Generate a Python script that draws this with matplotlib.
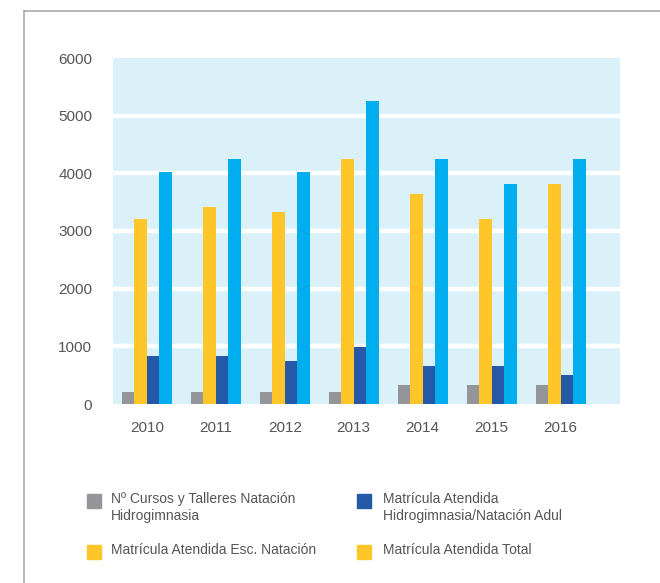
import matplotlib
matplotlib.use("Agg")
import matplotlib.pyplot as plt
from matplotlib.patches import Rectangle
from matplotlib.lines import Line2D
import numpy as np

plt.rcParams['font.family'] = ['Liberation Sans', 'DejaVu Sans']

# datos
years = ['2010', '2011', '2012', '2013', '2014', '2015', '2016']
cursos = [210, 210, 210, 210, 330, 330, 330]
esc_natacion = [3210, 3420, 3330, 4250, 3640, 3210, 3820]
hidro_adul = [830, 830, 745, 990, 660, 660, 505]
total = [4020, 4250, 4020, 5250, 4250, 3820, 4250]

labels = ['Nº Cursos y Talleres Natación\nHidrogimnasia',
          'Matrícula Atendida Esc. Natación',
          'Matrícula Atendida\nHidrogimnasia/Natación Adul',
          'Matrícula Atendida Total']

gris = '#939598'
amarillo = '#FFC629'
azul_osc = '#2558A6'
celeste = '#00AEEF'
fondo = '#DAF1FA'
texto = '#555555'

fig = plt.figure(figsize=(6.6, 5.83), dpi=100)
ax = fig.add_axes([113/660, 1-404/583, 507/660, 346/583])
ax.set_facecolor(fondo)

x = np.arange(len(years))
w = 0.18
series = [cursos, esc_natacion, hidro_adul, total]
colores = [gris, amarillo, azul_osc, celeste]
for i, (s, c) in enumerate(zip(series, colores)):
    ax.bar(x + (i - 1.5) * w, s, width=w, color=c, zorder=3)

ax.set_ylim(0, 6000)
ax.set_xlim(-0.49, 6.86)
ax.set_yticks(range(0, 6001, 1000))
ax.set_xticks(x)
ax.set_xticklabels(years)
for y in range(1000, 6000, 1000):
    ax.axhline(y, color='white', lw=3.2, zorder=2)
for s in ax.spines.values():
    s.set_visible(False)
ax.tick_params(axis='y', length=0, pad=15, labelsize=11, labelcolor=texto)
ax.tick_params(axis='x', length=0, pad=12, labelsize=11, labelcolor=texto)

# marco
fig.add_artist(Line2D([24/660, 24/660], [0, 1-11/583], color='#aaaaaa', lw=1.2))
fig.add_artist(Line2D([24/660, 1], [1-11/583, 1-11/583], color='#aaaaaa', lw=1.2))

# leyenda
leg_pos = [(87, 494, 111), (87, 545, 111), (357, 494, 383), (357, 545, 383)]
leg_col = [gris, amarillo, azul_osc, amarillo]
for (sx, sy, tx), c, lab in zip(leg_pos, leg_col, labels):
    fig.add_artist(Rectangle((sx/660, 1-(sy+14)/583), 14/660, 14/583,
                             color=c, transform=fig.transFigure))
    fig.text(tx/660, 1-(sy-2)/583, lab, va='top', ha='left', fontsize=10,
             color=texto, linespacing=1.3)

fig.savefig('out.png', dpi=100)
